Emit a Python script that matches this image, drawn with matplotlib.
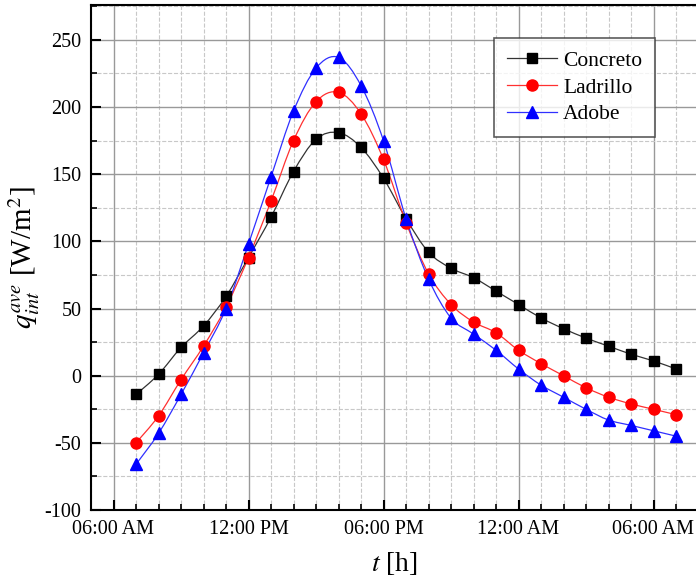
import matplotlib
matplotlib.use('Agg')
import matplotlib.pyplot as plt
from matplotlib.path import Path
from matplotlib.patches import PathPatch
from matplotlib.ticker import MultipleLocator, FixedLocator, FixedFormatter
import numpy as np

plt.rcParams['font.family'] = 'Liberation Serif'
plt.rcParams['mathtext.fontset'] = 'stix'
plt.rcParams['axes.unicode_minus'] = False

# hours since midnight of day 1 (7:00 AM .. 7:00 AM next day)
hours = list(range(7, 32))

concreto = [-14, 1, 21, 37, 59, 88, 118, 152, 176, 181, 170, 147, 117, 92, 80, 73,
            63, 53, 43, 35, 28, 22, 16, 11, 5]
ladrillo = [-50, -30, -3, 22, 51, 88, 130, 175, 204, 211, 195, 161, 114, 76, 53, 40,
            32, 19, 9, 0, -9, -16, -21, -25, -29]
adobe = [-66, -43, -14, 17, 50, 98, 148, 197, 229, 237, 216, 175, 117, 72, 43, 31,
         19, 5, -7, -16, -25, -33, -37, -41, -45]

tick_pos = [6, 12, 18, 24, 30]
tick_labels = ['06:00 AM', '12:00 PM', '06:00 PM', '12:00 AM', '06:00 AM']


def smooth_path(x, y):
    # Catmull-Rom curve through the points, drawn as cubic bezier segments
    p = np.column_stack([x, y]).astype(float)
    verts = [p[0]]
    codes = [Path.MOVETO]
    n = len(p)
    for i in range(n - 1):
        p0 = p[i - 1] if i > 0 else p[i]
        p3 = p[i + 2] if i + 2 < n else p[i + 1]
        c1 = p[i] + (p[i + 1] - p0) / 6.0
        c2 = p[i + 1] - (p3 - p[i]) / 6.0
        verts += [c1, c2, p[i + 1]]
        codes += [Path.CURVE4] * 3
    return Path(verts, codes)


fig = plt.figure(figsize=(6.96, 5.79), dpi=100)
ax = fig.add_axes([91 / 696, 1 - 510 / 579, 607.5 / 696, 505 / 579])

series = [
    (concreto, '#333333', 'black', 's', 7, 'Concreto'),
    (ladrillo, '#ff3030', 'red', 'o', 8, 'Ladrillo'),
    (adobe, '#3030ff', 'blue', '^', 8.5, 'Adobe'),
]
for vals, lc, mc, mk, ms, lab in series:
    ax.add_patch(PathPatch(smooth_path(hours, vals), facecolor='none', edgecolor=lc,
                           linewidth=0.9, zorder=3))
    ax.plot(hours, vals, linestyle='none', marker=mk, markersize=ms, color=mc,
            markeredgecolor=mc, zorder=4)
    ax.plot([], [], color=lc, linewidth=0.9, marker=mk, markersize=ms,
            markerfacecolor=mc, markeredgecolor=mc, label=lab)

ax.set_xlim(5, 32)
ax.set_ylim(-100, 276)

ax.xaxis.set_major_locator(FixedLocator(tick_pos))
ax.xaxis.set_major_formatter(FixedFormatter(tick_labels))
ax.xaxis.set_minor_locator(MultipleLocator(1))
ax.yaxis.set_major_locator(MultipleLocator(50))
ax.yaxis.set_minor_locator(MultipleLocator(25))

ax.grid(which='major', color='#999999', linestyle='-', linewidth=1.0)
ax.grid(which='minor', color='#c8c8c8', linestyle='--', linewidth=0.8)
ax.set_axisbelow(True)

ax.tick_params(which='major', direction='in', length=7, width=1.5, labelsize=14.5,
               top=False, right=False, pad=7)
ax.tick_params(which='minor', direction='in', length=4, width=1.2, top=False, right=False)
for s in ['left', 'bottom', 'top']:
    ax.spines[s].set_linewidth(1.5)
ax.spines['right'].set_visible(False)

ax.set_xlabel('$t$ [h]', fontsize=20, labelpad=8)
ax.set_ylabel('$q_{int}^{ave}$ [W/m$^2$]', fontsize=21, labelpad=2)

leg = ax.legend(loc='upper right', bbox_to_anchor=((655 - 91) / 607.5, 1 - 33 / 505),
                borderaxespad=0, fontsize=15.5, frameon=True, fancybox=False,
                edgecolor='#333333', borderpad=0.6, handlelength=2.3,
                labelspacing=0.3, handletextpad=0.3)
leg.get_frame().set_linewidth(1.2)

fig.savefig('out.png', dpi=100)
